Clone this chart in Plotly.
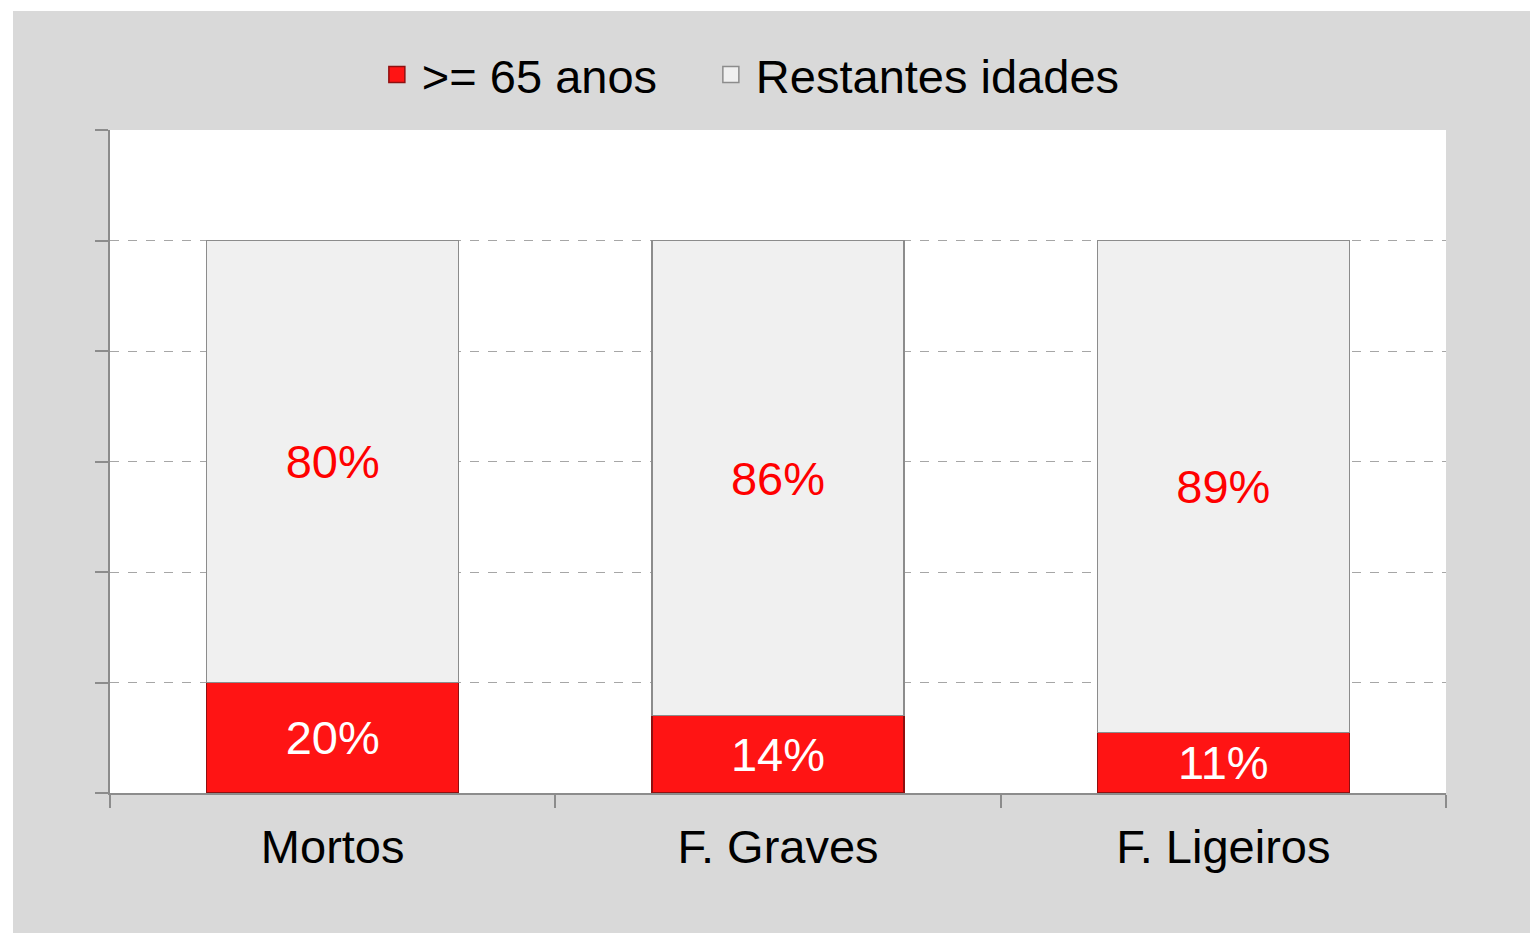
import plotly.graph_objects as go

categories = ["Mortos", "F. Graves", "F. Ligeiros"]
idosos = [20, 14, 11]
restantes = [80, 86, 89]
series_names = [">= 65 anos", "Restantes idades"]
series_colors = ["#ff1414", "#f0f0f0"]
series_edges = ["#8e1010", "#8c8c8c"]
label_colors = ["white", "#ff0000"]

FONT = "Arial, Liberation Sans, sans-serif"

fig = go.Figure()
for vals, name, col, edge, lcol in zip([idosos, restantes], series_names, series_colors,
                                        series_edges, label_colors):
    fig.add_trace(go.Bar(
        x=categories, y=vals, name=name, showlegend=False,
        marker=dict(color=col, line=dict(color=edge, width=1.5)),
        text=[f"{v}%" for v in vals], textposition="inside",
        insidetextanchor="middle", constraintext="none", textangle=0,
        textfont=dict(color=lcol, size=47, family=FONT),
    ))
# legend-only entries with larger square symbols, each in its own legend box
for name, col, edge, lg in zip(series_names, series_colors, series_edges, ["legend", "legend2"]):
    fig.add_trace(go.Scatter(
        x=[None], y=[None], mode="markers", name=name, legend=lg,
        marker=dict(symbol="square", size=16, color=col, line=dict(color=edge, width=1.5)),
    ))

legend_style = dict(orientation="h", xanchor="left", y=1.083, yanchor="middle",
                    font=dict(size=47, family=FONT, color="black"),
                    bgcolor="rgba(0,0,0,0)", itemwidth=40, itemsizing="trace")

fig.update_layout(
    barmode="stack",
    bargap=0.434,
    width=1538, height=933,
    margin=dict(l=102, r=100, t=122, b=148),
    paper_bgcolor="#d9d9d9",
    plot_bgcolor="white",
    font=dict(family=FONT, color="black"),
    legend=dict(x=0.196, **legend_style),
    legend2=dict(x=0.446, **legend_style),
    showlegend=True,
    shapes=[
        dict(type="rect", xref="paper", yref="paper", x0=-0.2, x1=1.2,
             y0=1 + 119 / 663, y1=1.3, fillcolor="white", line=dict(width=0)),
        dict(type="rect", xref="paper", yref="paper", x0=-0.2, x1=-97 / 1336,
             y0=-0.3, y1=1.3, fillcolor="white", line=dict(width=0)),
    ],
)
fig.update_xaxes(
    showline=True, linecolor="#8c8c8c", linewidth=2,
    ticks="outside", tickson="boundaries", ticklen=13, tickcolor="#8c8c8c", tickwidth=2,
    tickfont=dict(size=47, family=FONT, color="black"),
    ticklabelstandoff=12,
    showgrid=False,
)
fig.update_yaxes(
    range=[0, 120.05], dtick=20, tick0=0,
    showline=True, linecolor="#8c8c8c", linewidth=2,
    ticks="outside", ticklen=13, tickcolor="#8c8c8c", tickwidth=2,
    showticklabels=False,
    showgrid=True, gridcolor="#a6a6a6", griddash="dash", gridwidth=1,
    zeroline=False,
)

fig.write_html("out.html")
